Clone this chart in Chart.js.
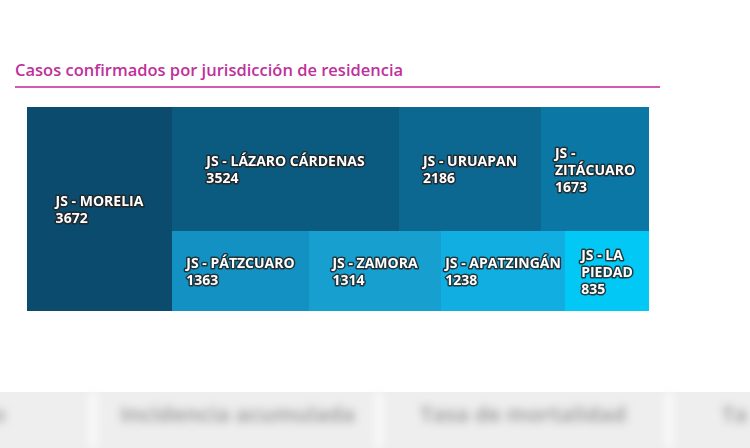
<!DOCTYPE html>
<html>
<head>
<meta charset="utf-8">
<script src="https://cdn.jsdelivr.net/npm/chart.js@4.4.1/dist/chart.umd.min.js"></script>
<style>
  html, body { margin: 0; padding: 0; background: #fff; }
  body { width: 750px; height: 448px; position: relative; overflow: hidden; font-family: "Open Sans", sans-serif; }
  #titulo { position: absolute; left: 15px; top: 59px; font-size: 16.5px; font-weight: 600; color: #c0309b; line-height: 22px; white-space: nowrap; }
  #linea { position: absolute; left: 15px; top: 86px; width: 645px; height: 2px; background: #d25ab0; }
  #caja { position: absolute; left: 27px; top: 107px; width: 622px; height: 204px; }
  #pestanas { position: absolute; left: 0; top: 392px; width: 750px; height: 56px; background: #eeeeee; }
  .tab { position: absolute; top: 7px; font-size: 21.5px; font-weight: 700; color: #a4a4a4; filter: blur(4px); white-space: nowrap; }
  .sep { position: absolute; top: 0; width: 10px; height: 56px; background: #f8f8f8; filter: blur(4px); }
</style>
</head>
<body>
<div id="titulo">Casos confirmados por jurisdicción de residencia</div>
<div id="linea"></div>
<div id="caja"><canvas id="grafico"></canvas></div>
<div id="pestanas">
  <div class="sep" style="left:88px"></div>
  <div class="sep" style="left:374px"></div>
  <div class="sep" style="left:664px"></div>
  <div class="tab" style="left:-8px">o</div>
  <div class="tab" style="left:120px">Incidencia acumulada</div>
  <div class="tab" style="left:420px">Tasa de mortalidad</div>
  <div class="tab" style="left:722px">Ta</div>
</div>
<script>
// Datos
const jurisdicciones = ['JS - MORELIA', 'JS - LÁZARO CÁRDENAS', 'JS - URUAPAN', 'JS - ZITÁCUARO',
  'JS - PÁTZCUARO', 'JS - ZAMORA', 'JS - APATZINGÁN', 'JS - LA PIEDAD'];
const casos = [3672, 3524, 2186, 1673, 1363, 1314, 1238, 835];
const colores = ['#0a4b6e', '#0b5a80', '#0c6791', '#0a77a4', '#1391c2', '#179fd0', '#11afe1', '#02c8f6'];

const ANCHO = 622;
const ALTO = 204;

// Peor relacion de aspecto de una fila
function peorAspecto(fila, total, lado, area) {
  const suma = fila.reduce((a, i) => a + casos[i], 0);
  const grosor = (suma / total) * area / lado;
  let peor = 0;
  fila.forEach(i => {
    const largo = (casos[i] / suma) * lado;
    const r = Math.max(grosor / largo, largo / grosor);
    if (r > peor) peor = r;
  });
  return peor;
}

// Treemap: filas alternando columna / renglon
function calcularCeldas() {
  const celdas = [];
  let x = 0, y = 0, w = ANCHO, h = ALTO;
  let restantes = casos.map((_, i) => i);
  let vertical = true;
  while (restantes.length) {
    const total = restantes.reduce((a, i) => a + casos[i], 0);
    const lado = vertical ? h : w;
    const area = w * h;
    let fila = [restantes[0]];
    let k = 1;
    while (k < restantes.length) {
      const prueba = fila.concat(restantes[k]);
      if (peorAspecto(prueba, total, lado, area) > peorAspecto(fila, total, lado, area)) break;
      fila = prueba;
      k++;
    }
    const suma = fila.reduce((a, i) => a + casos[i], 0);
    const grosor = (suma / total) * (vertical ? w : h);
    let pos = 0;
    fila.forEach(i => {
      const largo = (casos[i] / suma) * lado;
      if (vertical) {
        celdas.push({ i, x0: x, x1: x + grosor, y0: y + pos, y1: y + pos + largo });
      } else {
        celdas.push({ i, x0: x + pos, x1: x + pos + largo, y0: y, y1: y + grosor });
      }
      pos += largo;
    });
    if (vertical) { x += grosor; w -= grosor; } else { y += grosor; h -= grosor; }
    restantes = restantes.slice(k);
    vertical = !vertical;
  }
  return celdas;
}

const celdas = calcularCeldas();

function partirTexto(ctx, texto, maximo) {
  const palabras = texto.split(' ');
  const lineas = [];
  let actual = '';
  palabras.forEach(p => {
    const prueba = actual ? actual + ' ' + p : p;
    if (ctx.measureText(prueba).width > maximo && actual) {
      lineas.push(actual);
      actual = p;
    } else {
      actual = prueba;
    }
  });
  if (actual) lineas.push(actual);
  return lineas;
}

// pixeles redondeados para que no se vean costuras
function caja(chart, c) {
  const sx = chart.scales.x, sy = chart.scales.y;
  return {
    x0: Math.round(sx.getPixelForValue(c.x0)),
    x1: Math.round(sx.getPixelForValue(c.x1)),
    y0: Math.round(sy.getPixelForValue(c.y0)),
    y1: Math.round(sy.getPixelForValue(c.y1))
  };
}

// Plugin que dibuja las celdas con las escalas del grafico
const pluginCeldas = {
  id: 'celdasTreemap',
  beforeDatasetsDraw: (chart) => {
    const { ctx } = chart;
    celdas.forEach(c => {
      const b = caja(chart, c);
      ctx.save();
      ctx.fillStyle = colores[c.i];
      ctx.fillRect(b.x0, b.y0, b.x1 - b.x0, b.y1 - b.y0);
      ctx.restore();
    });
    celdas.forEach(c => {
      const b = caja(chart, c);
      ctx.save();
      ctx.font = 'bold 14px "Open Sans"';
      const lineas = partirTexto(ctx, jurisdicciones[c.i], b.x1 - b.x0 - 6);
      lineas.push(String(casos[c.i]));
      const anchoBloque = Math.max(...lineas.map(l => ctx.measureText(l).width));
      const altoLinea = 17;
      const izq = (b.x0 + b.x1) / 2 - anchoBloque / 2;
      const arriba = (b.y0 + b.y1) / 2 - (lineas.length * altoLinea) / 2 + 2;
      ctx.textBaseline = 'middle';
      ctx.lineJoin = 'round';
      lineas.forEach((l, n) => {
        const ly = arriba + altoLinea * (n + 0.5);
        ctx.strokeStyle = 'rgba(35, 35, 35, 0.85)';
        ctx.lineWidth = 3;
        ctx.strokeText(l, izq, ly);
        ctx.fillStyle = '#ffffff';
        ctx.fillText(l, izq, ly);
      });
      ctx.restore();
    });
  }
};

new Chart(document.getElementById('grafico'), {
  type: 'scatter',
  data: {
    datasets: [{
      label: 'Casos',
      data: celdas.map(c => ({ x: (c.x0 + c.x1) / 2, y: (c.y0 + c.y1) / 2 })),
      pointRadius: 0,
      pointHoverRadius: 0
    }]
  },
  options: {
    responsive: true,
    maintainAspectRatio: false,
    animation: false,
    layout: { padding: 0 },
    plugins: {
      legend: { display: false },
      tooltip: { enabled: false }
    },
    scales: {
      x: { type: 'linear', min: 0, max: ANCHO, display: false },
      y: { type: 'linear', min: 0, max: ALTO, reverse: true, display: false }
    }
  },
  plugins: [pluginCeldas]
});
</script>
</body>
</html>
